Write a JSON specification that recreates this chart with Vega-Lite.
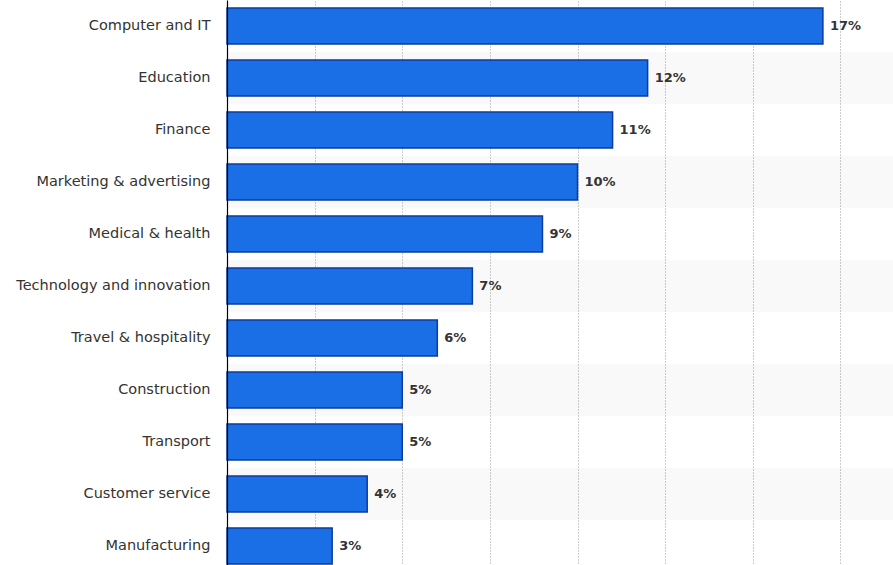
{
  "$schema": "https://vega.github.io/schema/vega-lite/v6.json",
  "width": 666,
  "height": 572,
  "autosize": {"type": "none"},
  "padding": {"left": 227, "top": 0, "right": 0, "bottom": 0},
  "background": "white",
  "config": {"view": {"stroke": null}, "font": "DejaVu Sans"},
  "data": {
    "values": [
      {"sector": "Computer and IT", "share": 0.17},
      {"sector": "Education", "share": 0.12},
      {"sector": "Finance", "share": 0.11},
      {"sector": "Marketing & advertising", "share": 0.10},
      {"sector": "Medical & health", "share": 0.09},
      {"sector": "Technology and innovation", "share": 0.07},
      {"sector": "Travel & hospitality", "share": 0.06},
      {"sector": "Construction", "share": 0.05},
      {"sector": "Transport", "share": 0.05},
      {"sector": "Customer service", "share": 0.04},
      {"sector": "Manufacturing", "share": 0.03}
    ]
  },
  "encoding": {
    "y": {
      "field": "sector",
      "type": "nominal",
      "sort": ["Computer and IT", "Education", "Finance", "Marketing & advertising", "Medical & health", "Technology and innovation", "Travel & hospitality", "Construction", "Transport", "Customer service", "Manufacturing"],
      "scale": {"paddingInner": 0, "paddingOuter": 0},
      "axis": {
        "title": null,
        "ticks": false,
        "labelPadding": 17,
        "labelFontSize": 14.5,
        "labelLimit": 260,
        "labelColor": "#333333",
        "domainColor": "#000000",
        "domainWidth": 1.2,
        "zindex": 2
      }
    }
  },
  "layer": [
    {
      "transform": [
        {"window": [{"op": "row_number", "as": "idx"}]},
        {"filter": "datum.idx % 2 == 0"}
      ],
      "mark": {"type": "rect", "fill": "#000000", "opacity": 0.025, "height": {"band": 1}},
      "encoding": {
        "x": {"datum": 0, "type": "quantitative"},
        "x2": {"datum": 0.19}
      }
    },
    {
      "mark": {
        "type": "bar",
        "height": {"band": 0.69},
        "fill": "#1b6fe6",
        "stroke": "#0d3c9c",
        "strokeWidth": 1.5
      },
      "encoding": {
        "x": {
          "field": "share",
          "type": "quantitative",
          "scale": {"domain": [0, 0.19], "nice": false, "zero": true},
          "axis": {
            "title": null,
            "labels": false,
            "ticks": false,
            "domain": false,
            "grid": true,
            "values": [0.025, 0.05, 0.075, 0.1, 0.125, 0.15, 0.175],
            "gridColor": "#9a9a9a",
            "gridDash": [1, 2],
            "gridWidth": 1
          }
        }
      }
    },
    {
      "mark": {
        "type": "text",
        "align": "left",
        "baseline": "middle",
        "dx": 7,
        "fontSize": 13,
        "fontWeight": "bold",
        "color": "#333333"
      },
      "encoding": {
        "x": {"field": "share", "type": "quantitative"},
        "text": {"field": "share", "type": "quantitative", "format": ".0%"}
      }
    }
  ]
}
